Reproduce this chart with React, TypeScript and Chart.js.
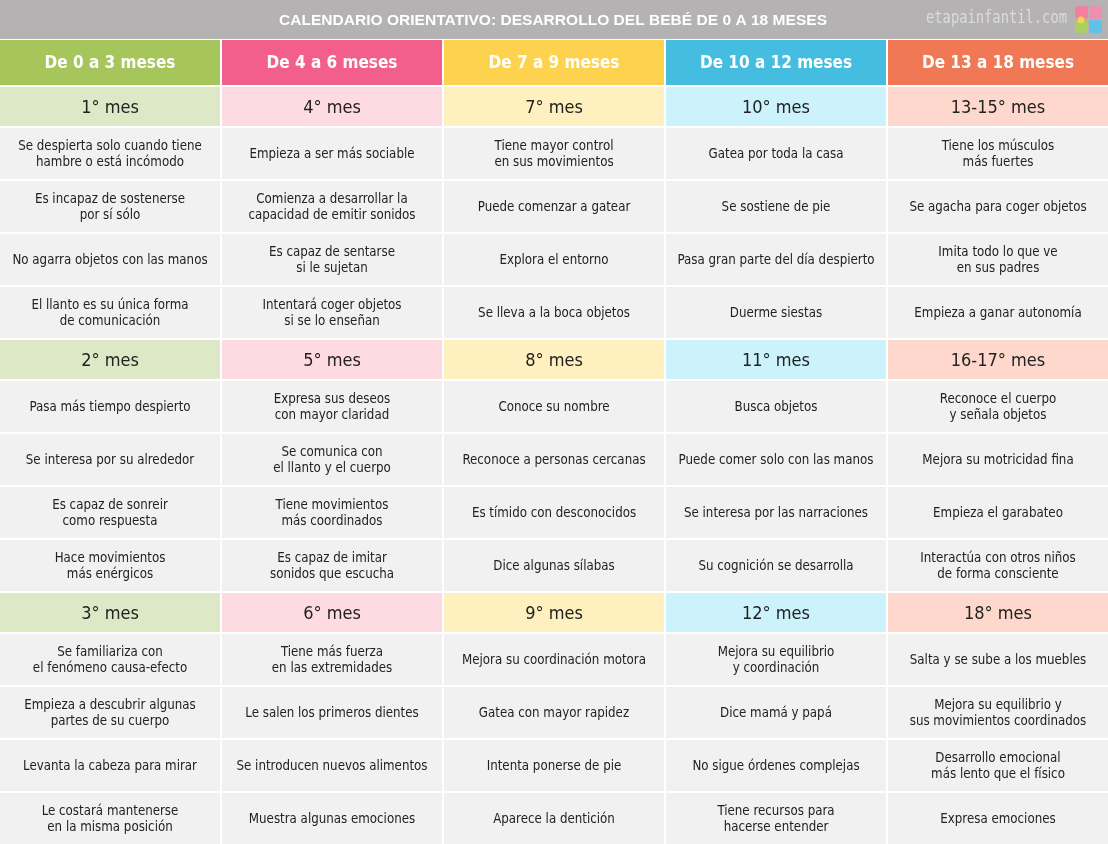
import React, { useEffect, useRef } from "react";
import { Chart, registerables } from "chart.js";

Chart.register(...registerables);

const TITLE = "CALENDARIO ORIENTATIVO: DESARROLLO DEL BEBÉ DE 0 A 18 MESES";
const SITE = "etapainfantil.com";

const groupLabels = ["De 0 a 3 meses", "De 4 a 6 meses", "De 7 a 9 meses", "De 10 a 12 meses", "De 13 a 18 meses"];
const headerColors = ["#a6c65b", "#f35f8c", "#fdd24f", "#44bde0", "#f07855"];
const monthColors = ["#dde8c6", "#fedae3", "#fef0bf", "#ccf3fc", "#fed8cc"];
const cellColor = "#f1f1f1";

const monthsBlock1 = ["1° mes", "4° mes", "7° mes", "10° mes", "13-15° mes"];
const monthsBlock2 = ["2° mes", "5° mes", "8° mes", "11° mes", "16-17° mes"];
const monthsBlock3 = ["3° mes", "6° mes", "9° mes", "12° mes", "18° mes"];

const itemsBlock1 = [
  ["Se despierta solo cuando tiene\nhambre o está incómodo", "Empieza a ser más sociable", "Tiene mayor control\nen sus movimientos", "Gatea por toda la casa", "Tiene los músculos\nmás fuertes"],
  ["Es incapaz de sostenerse\npor sí sólo", "Comienza a desarrollar la\ncapacidad de emitir sonidos", "Puede comenzar a gatear", "Se sostiene de pie", "Se agacha para coger objetos"],
  ["No agarra objetos con las manos", "Es capaz de sentarse\nsi le sujetan", "Explora el entorno", "Pasa gran parte del día despierto", "Imita todo lo que ve\nen sus padres"],
  ["El llanto es su única forma\nde comunicación", "Intentará coger objetos\nsi se lo enseñan", "Se lleva a la boca objetos", "Duerme siestas", "Empieza a ganar autonomía"],
];
const itemsBlock2 = [
  ["Pasa más tiempo despierto", "Expresa sus deseos\ncon mayor claridad", "Conoce su nombre", "Busca objetos", "Reconoce el cuerpo\ny señala objetos"],
  ["Se interesa por su alrededor", "Se comunica con\nel llanto y el cuerpo", "Reconoce a personas cercanas", "Puede comer solo con las manos", "Mejora su motricidad fina"],
  ["Es capaz de sonreir\ncomo respuesta", "Tiene movimientos\nmás coordinados", "Es tímido con desconocidos", "Se interesa por las narraciones", "Empieza el garabateo"],
  ["Hace movimientos\nmás enérgicos", "Es capaz de imitar\nsonidos que escucha", "Dice algunas sílabas", "Su cognición se desarrolla", "Interactúa con otros niños\nde forma consciente"],
];
const itemsBlock3 = [
  ["Se familiariza con\nel fenómeno causa-efecto", "Tiene más fuerza\nen las extremidades", "Mejora su coordinación motora", "Mejora su equilibrio\ny coordinación", "Salta y se sube a los muebles"],
  ["Empieza a descubrir algunas\npartes de su cuerpo", "Le salen los primeros dientes", "Gatea con mayor rapidez", "Dice mamá y papá", "Mejora su equilibrio y\nsus movimientos coordinados"],
  ["Levanta la cabeza para mirar", "Se introducen nuevos alimentos", "Intenta ponerse de pie", "No sigue órdenes complejas", "Desarrollo emocional\nmás lento que el físico"],
  ["Le costará mantenerse\nen la misma posición", "Muestra algunas emociones", "Aparece la dentición", "Tiene recursos para\nhacerse entender", "Expresa emociones"],
];

// layout (style, not data)
const W = 1108;
const H = 844;
const TITLE_H = 40;
const SLOT = { header: 47, month: 41, item: 53 };
const GAP = 2;
const FONT = '"DejaVu Sans Condensed", "DejaVu Sans", sans-serif';

type Row = { kind: "header" | "month" | "item"; texts: string[]; colors: string[] };

function buildRows(): Row[] {
  const rows: Row[] = [{ kind: "header", texts: groupLabels, colors: headerColors }];
  const blocks: [string[], string[][]][] = [
    [monthsBlock1, itemsBlock1],
    [monthsBlock2, itemsBlock2],
    [monthsBlock3, itemsBlock3],
  ];
  for (const [months, items] of blocks) {
    rows.push({ kind: "month", texts: months, colors: monthColors });
    for (const it of items) rows.push({ kind: "item", texts: it, colors: it.map(() => cellColor) });
  }
  return rows;
}

const textPlugin = {
  id: "cellText",
  beforeDatasetsDraw(chart: any) {
    const ctx = chart.ctx as CanvasRenderingContext2D;
    const ys = chart.scales.y;
    const top = ys.getPixelForValue(0);
    const bottom = ys.getPixelForValue(TITLE_H - 1);
    const left = chart.chartArea.left;
    const right = chart.chartArea.right;
    ctx.save();
    ctx.fillStyle = "#b4b2b3";
    ctx.fillRect(left, top, right - left, bottom - top);
    // title
    ctx.font = `bold 14px "Liberation Sans", Arial, sans-serif`;
    ctx.fillStyle = "#ffffff";
    ctx.textBaseline = "middle";
    ctx.textAlign = "center";
    const tw = ctx.measureText(TITLE).width;
    const cx = left + 1 + 553;
    ctx.translate(cx, top + 21);
    ctx.scale(548 / tw, 1);
    ctx.fillText(TITLE, 0, 0);
    ctx.restore();
    // site logo
    ctx.save();
    ctx.font = `17px "DejaVu Sans Mono", monospace`;
    ctx.fillStyle = "#dcdcdc";
    ctx.textBaseline = "middle";
    ctx.textAlign = "left";
    const sw = ctx.measureText(SITE).width;
    ctx.translate(left + 1 + 926, top + 19);
    ctx.scale(141 / sw, 1);
    ctx.fillText(SITE, 0, 0);
    ctx.restore();
    // puzzle icon
    ctx.save();
    const ix = left + 1 + 1075;
    const iy = top + 6;
    const q = [
      ["#f07fa0", 0, 0],
      ["#ee8fb0", 14, 0],
      ["#a9cf5c", 0, 14],
      ["#5ec3e6", 14, 14],
    ] as [string, number, number][];
    for (const [c, dx, dy] of q) {
      ctx.fillStyle = c;
      ctx.beginPath();
      (ctx as any).roundRect(ix + dx, iy + dy, 13, 13, 3);
      ctx.fill();
    }
    ctx.fillStyle = "#f5d451";
    ctx.beginPath();
    ctx.arc(ix + 6, iy + 14, 3.5, 0, Math.PI * 2);
    ctx.fill();
    ctx.restore();
  },
  afterDatasetsDraw(chart: any) {
    const ctx = chart.ctx as CanvasRenderingContext2D;
    chart.data.datasets.forEach((ds: any, i: number) => {
      const meta = chart.getDatasetMeta(i);
      meta.data.forEach((bar: any, j: number) => {
        const { x, y, base } = bar.getProps(["x", "y", "base"], true);
        const cy = (y + base) / 2;
        const lines = String(ds.texts[j]).split("\n");
        ctx.save();
        ctx.textAlign = "center";
        ctx.textBaseline = "middle";
        if (ds.kind === "header") {
          ctx.font = `bold 17px ${FONT}`;
          ctx.fillStyle = "#ffffff";
          ctx.fillText(lines[0], x, cy + 1);
        } else if (ds.kind === "month") {
          ctx.font = `18px ${FONT}`;
          ctx.fillStyle = "#222222";
          ctx.fillText(lines[0], x, cy + 1.5);
        } else {
          ctx.font = `13.2px ${FONT}`;
          ctx.fillStyle = "#222222";
          const lh = 16;
          const start = cy + 1 - ((lines.length - 1) * lh) / 2;
          lines.forEach((l, k) => ctx.fillText(l, x, start + k * lh));
        }
        ctx.restore();
      });
    });
  },
};

export default function App() {
  const ref = useRef<HTMLCanvasElement | null>(null);
  useEffect(() => {
    document.body.style.margin = "0";
    const canvas = ref.current!;
    const rows = buildRows();
    let cursor = TITLE_H;
    const datasets = rows.map((r) => {
      const h = SLOT[r.kind];
      const y0 = cursor;
      const y1 = cursor + h - GAP;
      cursor += h;
      return {
        data: r.texts.map(() => [y0, y1]),
        backgroundColor: r.colors,
        borderWidth: 0,
        grouped: false,
        barPercentage: 220 / 222,
        categoryPercentage: 1,
        texts: r.texts,
        kind: r.kind,
      } as any;
    });
    const chart = new Chart(canvas, {
      type: "bar",
      data: { labels: groupLabels, datasets },
      options: {
        responsive: false,
        animation: false,
        devicePixelRatio: 1,
        layout: { padding: 0 },
        plugins: { legend: { display: false }, tooltip: { enabled: false }, title: { display: false } },
        events: [],
        scales: {
          x: { type: "category", display: false, offset: true, grid: { display: false } },
          y: { type: "linear", display: false, reverse: true, min: 0, max: H, grid: { display: false } },
        },
      },
      plugins: [textPlugin],
    });
    return () => chart.destroy();
  }, []);
  return (
    <div style={{ width: W, height: H, overflow: "hidden", position: "relative", background: "#ffffff" }}>
      <canvas ref={ref} width={W + 2} height={H} style={{ position: "absolute", left: -1, top: 0, width: W + 2, height: H }} />
    </div>
  );
}
